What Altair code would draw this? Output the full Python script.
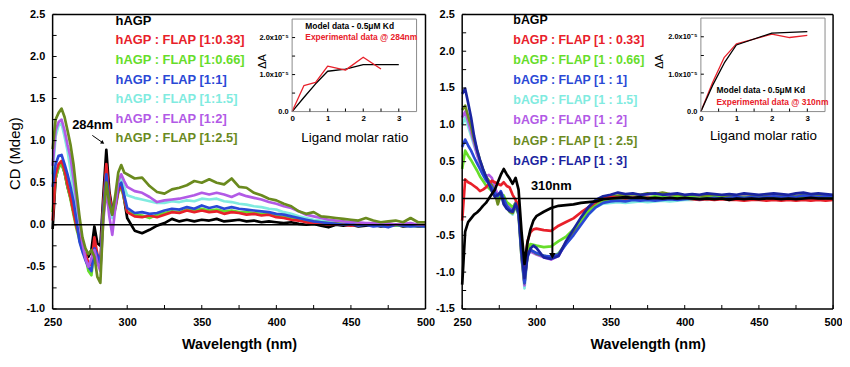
import altair as alt
import pandas as pd

FONT = "Liberation Sans"

# wavelength grids (nm)
WL_A = list(range(250, 301, 2))
WL_B = list(range(305, 501, 5))
WL = WL_A + WL_B

# ---------------- left panel: hAGP titration ----------------
L_BLACK = [-0.05,0.55,0.70,0.74,0.62,0.45,0.32,0.15,0.00,-0.12,-0.25,-0.30,-0.38,-0.30,-0.02,-0.22,-0.25,0.35,0.89,0.40,0.18,0.22,0.42,0.52,0.30,0.08] + \
          [-0.07,-0.10,-0.06,-0.01,0.02,0.07,0.04,0.06,0.04,0.06,0.05,0.07,0.04,0.05,0.06,0.04,0.05,0.03,0.04,0.03,0.02,0.03,0.01,0.00,0.01,-0.01,-0.03,0.00,-0.01,0.00,-0.02,-0.01,0.00,-0.02,-0.01,0.00,-0.02,-0.01,-0.02,-0.02]
L_RED = [0.05,0.60,0.72,0.76,0.65,0.48,0.33,0.15,-0.02,-0.15,-0.30,-0.35,-0.45,-0.48,-0.15,-0.35,-0.45,0.25,0.72,0.35,0.15,0.20,0.40,0.48,0.32,0.15] + \
        [0.10,0.09,0.11,0.09,0.12,0.15,0.14,0.17,0.15,0.17,0.15,0.16,0.13,0.15,0.14,0.12,0.13,0.11,0.12,0.09,0.08,0.06,0.05,0.03,0.02,0.01,0.00,0.01,0.00,-0.01,0.00,0.01,-0.01,0.00,-0.01,0.00,0.01,0.00,-0.01,0.00]
L_GREEN = [0.15,0.55,0.68,0.72,0.62,0.45,0.30,0.12,-0.05,-0.18,-0.30,-0.38,-0.55,-0.60,-0.28,-0.38,-0.52,0.20,0.62,0.32,0.12,0.18,0.38,0.45,0.30,0.16] + \
          [0.12,0.11,0.08,0.12,0.14,0.16,0.15,0.18,0.17,0.19,0.17,0.18,0.16,0.17,0.15,0.15,0.14,0.13,0.12,0.11,0.09,0.08,0.06,0.05,0.04,0.03,0.02,0.02,0.01,0.01,0.00,0.01,-0.01,0.00,0.00,-0.01,0.00,0.01,0.00,0.00]
L_BLUE = [0.45,0.72,0.82,0.83,0.72,0.60,0.45,0.28,0.05,-0.20,-0.32,-0.42,-0.50,-0.55,-0.28,-0.36,-0.48,0.18,0.60,0.28,0.12,0.22,0.45,0.50,0.35,0.20] + \
         [0.14,0.15,0.13,0.14,0.17,0.19,0.18,0.21,0.19,0.23,0.20,0.22,0.19,0.21,0.19,0.18,0.17,0.16,0.15,0.13,0.12,0.10,0.08,0.06,0.04,0.03,0.02,0.01,0.00,0.01,-0.01,0.00,-0.02,-0.01,-0.03,0.00,-0.01,-0.02,-0.01,-0.02]
L_CYAN = [0.60,1.05,1.18,1.20,1.05,0.88,0.65,0.42,0.20,-0.05,-0.22,-0.35,-0.48,-0.55,-0.30,-0.38,-0.52,0.15,0.55,0.25,0.08,0.25,0.50,0.55,0.45,0.35] + \
         [0.32,0.30,0.28,0.26,0.26,0.28,0.27,0.29,0.28,0.31,0.30,0.31,0.28,0.27,0.25,0.24,0.22,0.21,0.19,0.18,0.15,0.13,0.10,0.08,0.06,0.05,0.04,0.03,0.02,0.02,0.01,0.00,0.01,-0.01,0.00,-0.01,0.00,-0.02,-0.01,-0.02]
L_PURPLE = [0.70,1.12,1.22,1.25,1.12,0.95,0.80,0.55,0.30,0.05,-0.22,-0.40,-0.50,-0.40,-0.30,-0.45,-0.55,0.05,0.42,0.10,-0.12,0.20,0.52,0.60,0.52,0.45] + \
           [0.40,0.38,0.33,0.27,0.29,0.30,0.31,0.33,0.35,0.38,0.36,0.38,0.36,0.33,0.37,0.34,0.32,0.30,0.27,0.25,0.22,0.20,0.16,0.12,0.10,0.08,0.06,0.05,0.04,0.03,0.03,0.02,0.02,0.01,0.02,0.00,0.01,0.02,0.00,0.00]
L_OLIVE = [0.90,1.25,1.33,1.38,1.28,1.12,0.95,0.72,0.40,0.10,-0.15,-0.28,-0.35,-0.30,-0.38,-0.62,-0.69,0.10,0.50,0.25,0.12,0.35,0.62,0.71,0.62,0.60] + \
          [0.55,0.56,0.46,0.39,0.37,0.42,0.44,0.47,0.52,0.50,0.54,0.50,0.48,0.55,0.45,0.44,0.38,0.35,0.31,0.29,0.25,0.22,0.16,0.13,0.15,0.10,0.09,0.08,0.07,0.06,0.05,0.08,0.05,0.03,0.04,0.05,0.03,0.08,0.03,0.03]

# ---------------- right panel: bAGP titration ----------------
R_BLACK = [-1.17,-0.45,-0.32,-0.27,-0.22,-0.19,-0.15,-0.10,-0.06,0.00,0.06,0.12,0.22,0.32,0.40,0.33,0.27,0.20,0.28,0.12,-0.45,-0.89,-0.60,-0.42,-0.30,-0.24] + \
          [-0.18,-0.13,-0.10,-0.09,-0.08,-0.06,-0.05,-0.04,-0.01,0.00,0.01,0.02,0.01,0.02,0.00,0.01,0.00,0.01,0.00,0.01,0.00,-0.01,0.00,-0.01,0.00,-0.02,0.00,-0.01,0.00,-0.01,0.00,0.00,-0.01,0.00,-0.01,0.00,0.01,0.00,0.00,0.00]
R_RED = [-0.30,0.26,0.22,0.20,0.17,0.14,0.10,0.12,0.15,0.20,0.24,0.22,0.20,0.18,0.22,0.17,0.15,0.05,-0.02,-0.10,-0.55,-0.95,-0.58,-0.46,-0.42,-0.41] + \
        [-0.43,-0.44,-0.37,-0.32,-0.27,-0.19,-0.12,-0.05,0.00,0.02,0.01,0.00,0.01,0.00,0.01,0.00,-0.01,0.00,-0.01,0.00,-0.01,-0.02,-0.01,-0.02,-0.01,-0.02,-0.02,-0.03,-0.02,-0.02,-0.03,-0.02,-0.03,-0.02,-0.03,-0.02,-0.03,-0.02,-0.03,-0.02]
R_GREEN = [0.40,0.65,0.58,0.52,0.45,0.38,0.30,0.24,0.18,0.14,0.10,0.06,0.02,0.06,0.04,-0.05,-0.08,-0.12,-0.06,-0.15,-0.70,-1.10,-0.70,-0.62,-0.63,-0.64] + \
          [-0.66,-0.65,-0.58,-0.52,-0.42,-0.30,-0.18,-0.10,-0.04,-0.01,0.00,0.01,0.00,0.02,0.01,0.03,0.02,0.01,0.02,0.01,0.02,0.00,0.01,0.02,0.01,0.00,0.01,0.02,0.01,0.00,0.01,0.02,0.00,0.01,0.02,0.01,0.00,0.01,0.02,0.01]
R_BLUE = [0.70,0.80,0.72,0.65,0.56,0.48,0.40,0.32,0.25,0.20,0.15,0.08,0.03,0.10,0.00,-0.10,-0.15,-0.17,-0.08,-0.20,-0.75,-1.15,-0.75,-0.70,-0.72,-0.74] + \
         [-0.78,-0.79,-0.76,-0.62,-0.50,-0.36,-0.22,-0.12,-0.06,-0.04,-0.03,-0.04,-0.02,-0.03,-0.02,-0.03,-0.02,-0.01,-0.02,-0.01,0.00,-0.01,0.00,0.01,0.00,0.01,0.02,0.01,0.02,0.01,0.02,0.03,0.02,0.03,0.02,0.04,0.03,0.02,0.03,0.03]
R_CYAN = [1.00,1.10,0.98,0.85,0.72,0.60,0.48,0.38,0.30,0.22,0.16,0.10,0.04,0.02,-0.05,-0.12,-0.18,-0.22,-0.12,-0.22,-0.80,-1.22,-0.78,-0.72,-0.73,-0.75] + \
         [-0.78,-0.80,-0.74,-0.62,-0.48,-0.34,-0.22,-0.12,-0.07,-0.06,-0.05,-0.06,-0.05,-0.04,-0.05,-0.04,-0.03,-0.04,-0.03,-0.02,-0.02,-0.01,-0.02,-0.01,0.00,-0.01,0.00,0.01,0.00,0.01,0.02,0.01,0.02,0.01,0.02,0.03,0.02,0.01,0.02,0.02]
R_PURPLE = [1.10,1.18,1.05,0.90,0.75,0.60,0.48,0.38,0.30,0.32,0.28,0.15,0.05,0.08,0.00,-0.08,-0.12,-0.15,-0.05,-0.18,-0.78,-1.18,-0.76,-0.72,-0.74,-0.76] + \
           [-0.80,-0.83,-0.78,-0.60,-0.46,-0.30,-0.18,-0.08,-0.02,0.00,0.01,0.02,0.01,0.03,0.02,0.01,0.02,0.03,0.02,0.01,0.02,0.01,0.02,0.03,0.02,0.04,0.02,0.03,0.02,0.03,0.04,0.05,0.03,0.02,0.04,0.03,0.04,0.03,0.02,0.03]
R_OLIVE = [1.20,1.26,1.12,0.98,0.80,0.66,0.52,0.40,0.30,0.24,0.18,0.08,-0.08,0.05,-0.02,-0.12,-0.18,-0.20,-0.10,-0.22,-0.80,-1.15,-0.76,-0.70,-0.72,-0.75] + \
          [-0.78,-0.80,-0.75,-0.60,-0.45,-0.30,-0.16,-0.06,0.00,0.03,0.04,0.05,0.06,0.05,0.07,0.06,0.08,0.06,0.05,0.04,0.05,0.04,0.03,0.04,0.03,0.04,0.03,0.02,0.03,0.04,0.03,0.02,0.03,0.04,0.03,0.05,0.04,0.03,0.04,0.03]
R_NAVY = [1.42,1.49,1.30,1.10,0.85,0.66,0.52,0.40,0.30,0.20,0.10,0.02,0.05,0.08,-0.08,-0.14,-0.17,-0.18,-0.07,-0.18,-0.70,-1.08,-0.80,-0.68,-0.64,-0.67] + \
         [-0.80,-0.82,-0.78,-0.58,-0.42,-0.26,-0.12,-0.02,0.03,0.05,0.08,0.06,0.07,0.05,0.06,0.07,0.05,0.06,0.07,0.05,0.06,0.05,0.07,0.06,0.05,0.06,0.05,0.07,0.06,0.05,0.06,0.07,0.06,0.05,0.07,0.08,0.06,0.07,0.06,0.05]

# ---------------- insets (delta A, units of 1e-5) ----------------
IL_MODEL_X = [0, 0.33, 0.66, 1.0, 1.5, 2.0, 2.5, 3.0]
IL_MODEL_Y = [0.0, 0.38, 0.75, 1.09, 1.15, 1.27, 1.27, 1.27]
IL_EXP_X = [0, 0.33, 0.66, 1.0, 1.5, 2.0, 2.5]
IL_EXP_Y = [0.0, 0.70, 0.79, 1.23, 1.12, 1.47, 1.15]
IR_MODEL_X = [0, 0.33, 0.66, 1.0, 2.0, 3.0]
IR_MODEL_Y = [0.0, 0.70, 1.30, 1.78, 2.10, 2.14]
IR_EXP_X = [0, 0.33, 0.66, 1.0, 2.0, 2.5, 3.0]
IR_EXP_Y = [0.0, 0.78, 1.45, 1.81, 2.07, 1.98, 2.04]

BLACK, RED, GREEN, BLUE = "#000000", "#e8202a", "#66dd2a", "#2a48d6"
CYAN, PURPLE, OLIVE, NAVY = "#80ebe0", "#b25ae6", "#6a8a1e", "#1a24a0"

LEFT_LEGEND = ["hAGP", "hAGP : FLAP [1:0.33]", "hAGP : FLAP [1:0.66]", "hAGP : FLAP [1:1]",
               "hAGP : FLAP [1:1.5]", "hAGP : FLAP [1:2]", "hAGP : FLAP [1:2.5]"]
LEFT_COLORS = [BLACK, RED, GREEN, BLUE, CYAN, PURPLE, OLIVE]
LEFT_LEGEND_Y = [2.418, 2.190, 1.954, 1.722, 1.490, 1.259, 1.030]
RIGHT_LEGEND = ["bAGP", "bAGP : FLAP [1 : 0.33]", "bAGP : FLAP [1 : 0.66]", "bAGP : FLAP [1 : 1]",
                "bAGP : FLAP [1 : 1.5]", "bAGP : FLAP [1 : 2]", "bAGP : FLAP [1 : 2.5]", "bAGP : FLAP [1 : 3]"]
RIGHT_COLORS = [BLACK, RED, GREEN, BLUE, CYAN, PURPLE, OLIVE, NAVY]
RIGHT_LEGEND_Y = [2.429, 2.150, 1.877, 1.602, 1.333, 1.059, 0.786, 0.511]

# draw order (last on top)
LEFT_SERIES = [("black", BLACK, L_BLACK), ("cyan", CYAN, L_CYAN), ("green", GREEN, L_GREEN),
               ("red", RED, L_RED), ("blue", BLUE, L_BLUE),
               ("purple", PURPLE, L_PURPLE), ("olive", OLIVE, L_OLIVE)]
RIGHT_SERIES = [("cyan", CYAN, R_CYAN), ("purple", PURPLE, R_PURPLE), ("olive", OLIVE, R_OLIVE),
                ("green", GREEN, R_GREEN), ("red", RED, R_RED), ("blue", BLUE, R_BLUE),
                ("navy", NAVY, R_NAVY), ("black", BLACK, R_BLACK)]
for _, _, v in LEFT_SERIES + RIGHT_SERIES:
    assert len(v) == len(WL), len(v)

H = 297


def sc(domain, rng):
    return alt.Scale(domain=domain, range=rng, nice=False, zero=False)


SXL = sc([250, 500], [0, 376])
SYL = sc([-1.0, 2.5], [H, 0])
SXR = sc([250, 500], [413, 787])
SYR = sc([-1.5, 2.5], [H, 0])
SXIL = sc([0, 3.5], [241.5, 367])
SYIL = sc([0, 2.5], [98, 4.7])
SXIR = sc([0, 3.5], [653.7, 778.9])
SYIR = sc([0, 2.5], [98, 3.7])


def series_df(series, xs=None):
    rows = []
    for name, col, vals in series:
        for i, v in enumerate(vals):
            rows.append({"x": (xs[name] if xs else WL)[i], "y": v, "s": name, "col": col})
    return pd.DataFrame(rows)


def lines(df, sx, sy, w, xaxis=None, yaxis=None):
    return alt.Chart(df).mark_line(strokeWidth=w, strokeJoin="round").encode(
        x=alt.X("x:Q", scale=sx, axis=xaxis),
        y=alt.Y("y:Q", scale=sy, axis=yaxis),
        color=alt.Color("col:N", scale=None),
        detail="s:N",
    )


def frame(sx, sy, x0, x1, y0, y1, color, w, zero=None):
    rows = [
        {"a": x0, "b": x1, "c": y0, "d": y0},
        {"a": x0, "b": x1, "c": y1, "d": y1},
        {"a": x0, "b": x0, "c": y0, "d": y1},
        {"a": x1, "b": x1, "c": y0, "d": y1},
    ]
    if zero is not None:
        rows.append({"a": x0, "b": x1, "c": zero, "d": zero})
    return alt.Chart(pd.DataFrame(rows)).mark_rule(color=color, strokeWidth=w).encode(
        x=alt.X("a:Q", scale=sx, axis=None), x2="b:Q",
        y=alt.Y("c:Q", scale=sy, axis=None), y2="d:Q")


def xticks(sx, sy, vals, yv, size):
    df = pd.DataFrame({"a": vals, "c": [yv] * len(vals)})
    return alt.Chart(df).mark_tick(orient="vertical", size=size, thickness=1, color="black",
                                   yOffset=-size / 2, opacity=1).encode(
        x=alt.X("a:Q", scale=sx, axis=None), y=alt.Y("c:Q", scale=sy, axis=None))


def yticks(sx, sy, vals, xv, size):
    df = pd.DataFrame({"c": vals, "a": [xv] * len(vals)})
    return alt.Chart(df).mark_tick(orient="horizontal", size=size, thickness=1, color="black",
                                   xOffset=size / 2, opacity=1).encode(
        x=alt.X("a:Q", scale=sx, axis=None), y=alt.Y("c:Q", scale=sy, axis=None))


def texts(sx, sy, xs, ys, labels, colors, size, weight="bold"):
    df = pd.DataFrame({"a": xs, "c": ys, "t": labels, "col": colors})
    return alt.Chart(df).mark_text(align="left", baseline="middle", font=FONT, fontSize=size,
                                   fontWeight=weight).encode(
        x=alt.X("a:Q", scale=sx, axis=None), y=alt.Y("c:Q", scale=sy, axis=None),
        text="t:N", color=alt.Color("col:N", scale=None))


def arrow(sx, sy, x0, y0, x1, y1, w):
    df = pd.DataFrame({"a": [x0], "b": [x1], "c": [y0], "d": [y1]})
    return alt.Chart(df).mark_rule(color="black", strokeWidth=w).encode(
        x=alt.X("a:Q", scale=sx, axis=None), x2="b:Q",
        y=alt.Y("c:Q", scale=sy, axis=None), y2="d:Q")


def head(sx, sy, x, y, shape, angle, size):
    df = pd.DataFrame({"a": [x], "c": [y]})
    return alt.Chart(df).mark_point(shape=shape, angle=angle, size=size, filled=True,
                                    color="black", opacity=1).encode(
        x=alt.X("a:Q", scale=sx, axis=None), y=alt.Y("c:Q", scale=sy, axis=None))


Y_LABEL = "(datum.value < 0 ? '-' : '') + format(abs(datum.value), '.1f')"
INSET_Y_LABEL = "datum.value == 0 ? '0.0' : format(datum.value, '.1f') + 'x10\u207b\u2075'"


def main_x_axis():
    return alt.Axis(orient="bottom", values=[250, 300, 350, 400, 450, 500], format="d",
                    title="Wavelength (nm)", labelFontSize=11, labelFontWeight="bold",
                    labelPadding=8, labelFlush=False, titleFontSize=14.5, titleFontWeight="bold",
                    titleY=36, titleBaseline="middle")


left_y_axis = alt.Axis(orient="left", values=[-1.0, -0.5, 0.0, 0.5, 1.0, 1.5, 2.0, 2.5],
                       labelExpr=Y_LABEL, title="CD (Mdeg)", labelFontSize=11,
                       labelFontWeight="bold", labelPadding=8, titleFontSize=15,
                       titleFontWeight="normal", titleX=-38, titleY=140, titleAngle=270,
                       titleBaseline="middle", titleAlign="center")
right_y_axis = alt.Axis(orient="left", offset=-413,
                        values=[-1.5, -1.0, -0.5, 0.0, 0.5, 1.0, 1.5, 2.0, 2.5],
                        labelExpr=Y_LABEL, title=None, labelFontSize=11,
                        labelFontWeight="bold", labelPadding=8)


def inset_axes(xoff, title_x, title_y):
    xa = alt.Axis(orient="bottom", offset=-(H - 98), values=[0, 1, 2, 3], format="d",
                  labelFontSize=8, labelFontWeight="bold", labelPadding=3, labelFlush=False,
                  title="Ligand molar ratio", titleFontSize=13.5, titleFontWeight="normal",
                  titleY=title_y, titleBaseline="middle")
    ya = alt.Axis(orient="left", offset=-xoff, values=[0, 1, 2], labelExpr=INSET_Y_LABEL,
                  labelFontSize=7.5, labelFontWeight="bold", labelPadding=4, labelFlush=False,
                  title="\u0394A", titleFontSize=11, titleFontWeight="normal", titleX=title_x,
                  titleY=47, titleAngle=270, titleBaseline="middle", titleAlign="center")
    return xa, ya


XT = [250, 275, 300, 325, 350, 375, 400, 425, 450, 475, 500]
YT_L = [-1.0, -0.75, -0.5, -0.25, 0.0, 0.25, 0.5, 0.75, 1.0, 1.25, 1.5, 1.75, 2.0, 2.25, 2.5]
YT_R = [-1.5, -1.25] + YT_L
IXT = [0.5, 1.0, 1.5, 2.0, 2.5, 3.0]
IYT = [0.5, 1.0, 1.5, 2.0]

layers = []
# left panel
layers.append(lines(series_df(LEFT_SERIES), SXL, SYL, 2.7, main_x_axis(), left_y_axis))
layers.append(frame(SXL, SYL, 250, 500, -1.0, 2.5, "black", 1.5, zero=0.0))
layers.append(xticks(SXL, SYL, XT, -1.0, 4))
layers.append(yticks(SXL, SYL, YT_L, 250, 4))
layers.append(texts(SXL, SYL, [292.2] * 7, LEFT_LEGEND_Y, LEFT_LEGEND, LEFT_COLORS, 13))
layers.append(texts(SXL, SYL, [263.1], [1.18], ["284nm"], [BLACK], 13))
layers.append(arrow(SXL, SYL, 276.6, 1.062, 283.6, 0.975, 1))
layers.append(head(SXL, SYL, 283.6, 0.975, "triangle-right", 35, 18))
# right panel
layers.append(lines(series_df(RIGHT_SERIES), SXR, SYR, 2.7, main_x_axis(), right_y_axis))
layers.append(frame(SXR, SYR, 250, 500, -1.5, 2.5, "black", 1.5, zero=0.0))
layers.append(xticks(SXR, SYR, XT, -1.5, 4))
layers.append(yticks(SXR, SYR, YT_R, 250, 4))
layers.append(texts(SXR, SYR, [284.5] * 8, RIGHT_LEGEND_Y, RIGHT_LEGEND, RIGHT_COLORS, 12.5))
layers.append(texts(SXR, SYR, [296.3], [0.174], ["310nm"], [BLACK], 13))
layers.append(arrow(SXR, SYR, 310.8, 0.0, 310.8, -0.76, 2))
layers.append(head(SXR, SYR, 310.8, -0.78, "triangle-down", 0, 45))

# left inset
ilx = {"model": IL_MODEL_X, "exp": IL_EXP_X}
xa, ya = inset_axes(241.5, -29.5, 26)
layers.append(lines(series_df([("model", BLACK, IL_MODEL_Y), ("exp", RED, IL_EXP_Y)], ilx),
                    SXIL, SYIL, 1.3, xa, ya))
layers.append(frame(SXIL, SYIL, 0, 3.5, 0, 2.5, "#8a8a8a", 1))
layers.append(xticks(SXIL, SYIL, IXT, 0, 3))
layers.append(yticks(SXIL, SYIL, IYT, 0, 3))
layers.append(texts(SXIL, SYIL, [0.37, 0.37], [2.31, 2.01],
                    ["Model data - 0.5\u03bcM Kd", "Experimental data @ 284nm"], [BLACK, RED], 8.5))
# right inset
irx = {"model": IR_MODEL_X, "exp": IR_EXP_X}
xa, ya = inset_axes(653.7, -41.7, 24)
layers.append(lines(series_df([("exp", RED, IR_EXP_Y), ("model", BLACK, IR_MODEL_Y)], irx),
                    SXIR, SYIR, 1.3, xa, ya))
layers.append(frame(SXIR, SYIR, 0, 3.5, 0, 2.5, "#8a8a8a", 1))
layers.append(xticks(SXIR, SYIR, IXT, 0, 3))
layers.append(yticks(SXIR, SYIR, IYT, 0, 3))
layers.append(texts(SXIR, SYIR, [0.44, 0.44], [0.57, 0.26],
                    ["Model data - 0.5\u03bcM Kd", "Experimental data @ 310nm"], [BLACK, RED], 8.5))

chart = alt.layer(*layers).resolve_scale(x="independent", y="independent").properties(
    width=787, height=H,
    padding={"left": 45, "top": 5, "right": 9, "bottom": 43},
    autosize=alt.AutoSizeParams(type="none"),
).configure_axis(
    labelFont=FONT, titleFont=FONT, labelColor="black", titleColor="black",
    grid=False, domain=False, ticks=False,
).configure_view(stroke=None)

chart.save("out.html", embed_options={"renderer": "svg", "actions": False})
